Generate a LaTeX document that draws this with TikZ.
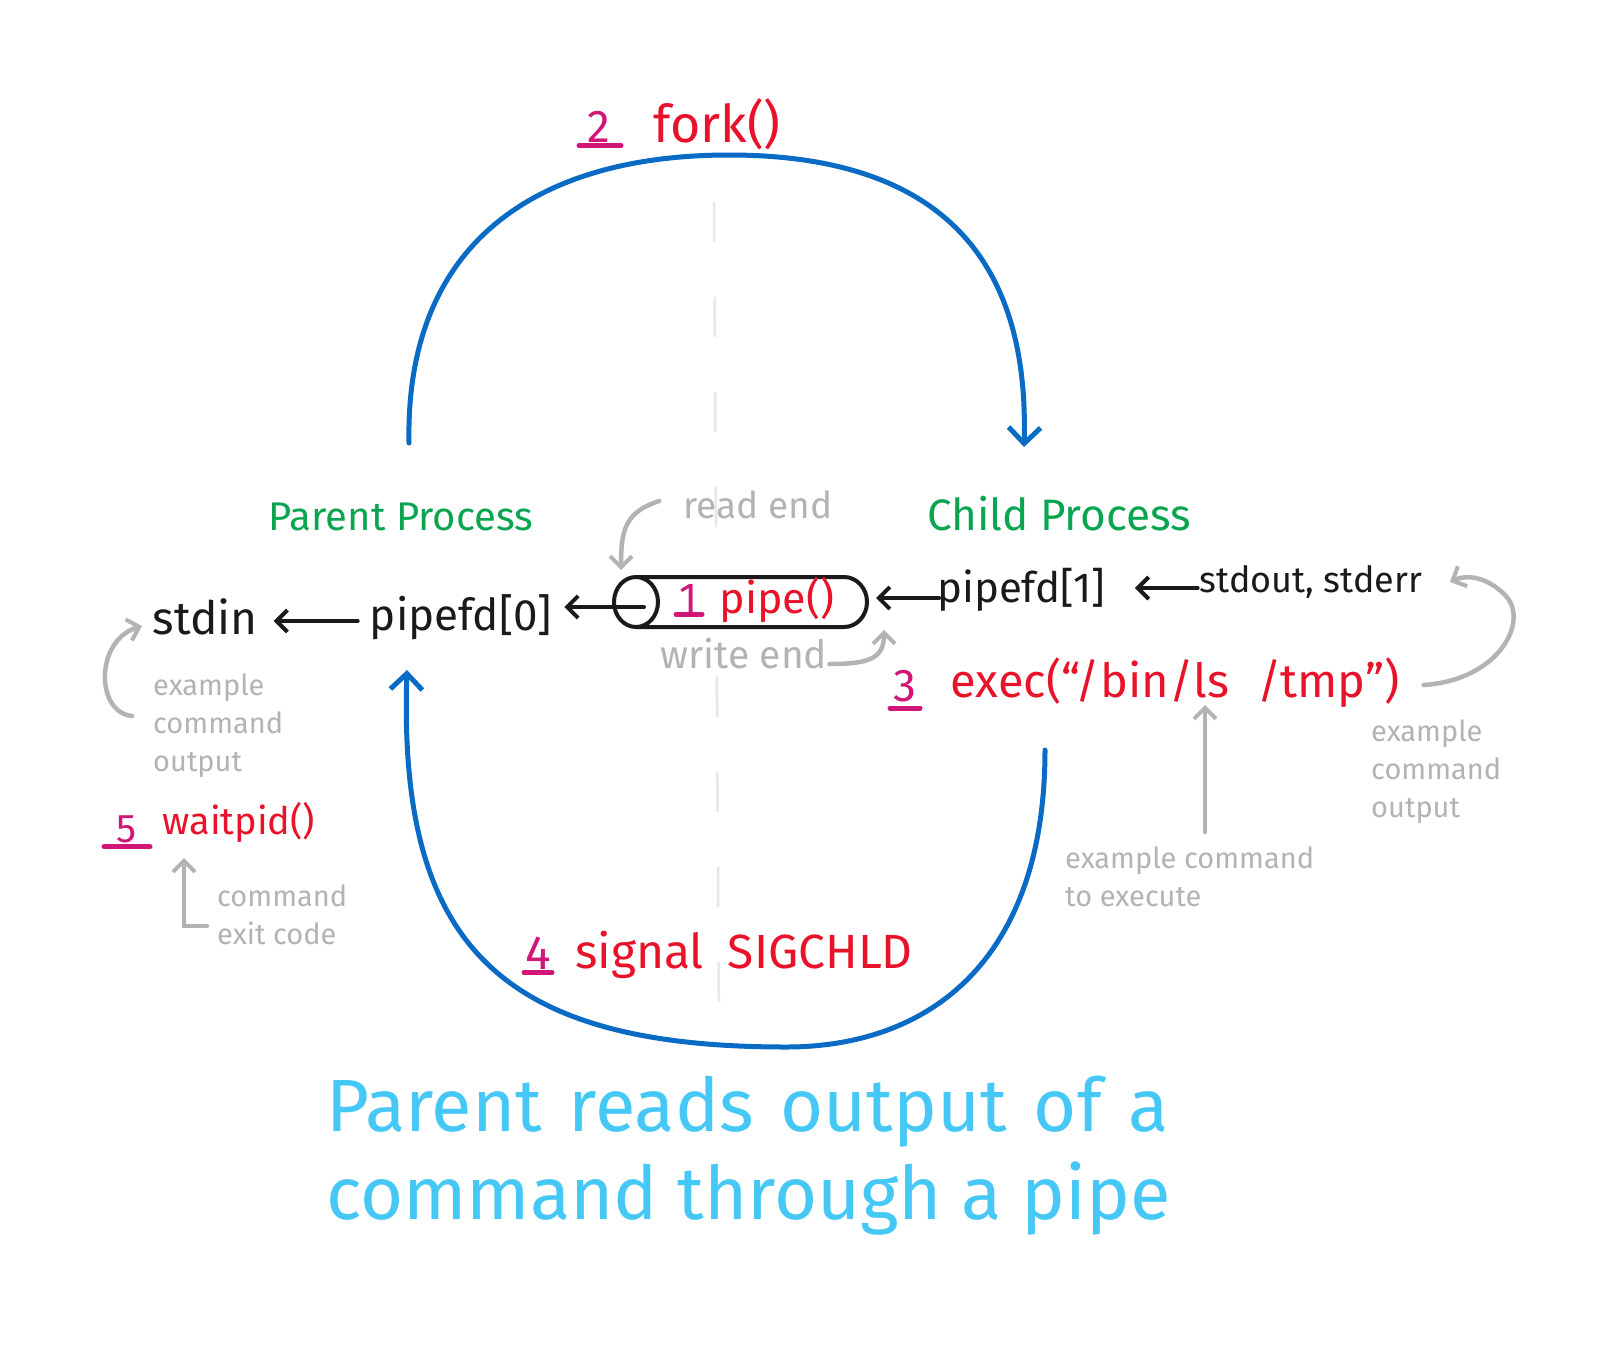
\documentclass[tikz,border=0pt]{standalone}
\usepackage{fontspec}
\setmainfont{Fira Sans}
\usetikzlibrary{arrows.meta}
\definecolor{cblue}{HTML}{0A6BC4}
\definecolor{cgreen}{HTML}{0AA550}
\definecolor{cred}{HTML}{E8132A}
\definecolor{cmag}{HTML}{D01778}
\definecolor{cgray}{HTML}{B3B3B3}
\definecolor{cdash}{HTML}{E8E8E8}
\definecolor{ccyan}{HTML}{45C8F5}
\definecolor{cblack}{HTML}{1A1A1A}
\newcommand\fsz[2]{\fontsize{#1}{#2}\selectfont}
\newcommand\ws{\hspace{0.36em}}
\begin{document}
\begin{tikzpicture}[x=1pt,y=-1pt,
  lbl/.style={inner sep=0pt, text=cblack, font=\fsz{42}{50}},
  grn/.style={inner sep=0pt, text=cgreen, font=\fsz{40}{48}},
  redt/.style={inner sep=0pt, text=cred, font=\fsz{44}{52}},
  num/.style={inner sep=0pt, text=cmag, font=\fsz{46}{52}},
  gry/.style={inner sep=0pt, text=cgray, font=\fsz{37}{44}},
  gsmall/.style={inner sep=0pt, text=cgray, font=\fsz{29}{38}, align=left},
  blk/.style={-{Straight Barb[length=11pt,width=22pt,line width=4pt]}, line width=4pt, line cap=round, cblack},
  garr/.style={-{Straight Barb[length=11pt,width=22pt,line width=4pt]}, line width=4.5pt, line cap=round, cgray},
  barr/.style={-{Straight Barb[length=16pt,width=32pt,line width=5pt]}, line width=5pt, line cap=round, cblue},
  uline/.style={line width=5pt, cmag, line cap=round}]
\fill[white] (0,0) rectangle (1622,1357);
\useasboundingbox (0,0) rectangle (1622,1357);

% dashed separator
\draw[cdash, line width=2.5pt, dash pattern=on 40pt off 55pt] (714,202) -- (719,1035);

% fork
\node[num] (n2) at (599,127) {2};
\draw[uline] ([xshift=-20pt,yshift=-3pt]n2.south) -- ([xshift=22pt,yshift=-3pt]n2.south);
\node[redt, font=\fsz{52}{60}] (fork) at (717,124) {fork()};
\coordinate (forkS) at (409,443);
\coordinate (forkE) at (1024,447);
\draw[barr] (forkS) .. controls (405,240) and (540,155) .. (729,155)
  .. controls (920,155) and (1030,240) .. (forkE);

% process titles
\node[grn] (parent) at (401,517) {Parent Process};
\node[grn, font=\fsz{44}{52}] (child) at (1059,514) {Child Process};

% main row
\node[lbl, font=\fsz{46}{54}] (stdin) at (205,617) {stdin};
\node[lbl, font=\fsz{44}{52}] (fd0) at (461,617) {pipefd[0]};
\node[lbl] (fd1) at (1021,590) {pipefd[1]};
\node[lbl, font=\fsz{36}{44}] (stdout) at (1311,582) {stdout, stderr};

% pipe
\node[inner sep=0pt, minimum width=254pt, minimum height=50pt] (pipe) at (751,602) {};
\fill[white] (636,577) -- (844,577) arc[start angle=-90, end angle=90, x radius=23, y radius=25] -- (636,627) -- cycle;
\draw[cblack, line width=4pt] (636,577) -- (844,577) arc[start angle=-90, end angle=90, x radius=23, y radius=25] -- (636,627);
\draw[cblack, line width=4pt, fill=white] (636,602) ellipse[x radius=22, y radius=25];
\coordinate (pipeL) at (644,607);
\node[num, font=\fsz{42}{48}] (n1) at (689,598) {1};
\draw[uline] ([xshift=-13pt,yshift=-2pt]n1.south) -- ([xshift=13pt,yshift=-2pt]n1.south);
\node[redt, font=\fsz{43}{50}] (pipefn) at (777,600) {pipe()};

% black arrows
\draw[blk] ([xshift=-12pt]fd0.west |- 0,621) -- ([xshift=16pt]stdin.east |- 0,621);
\draw[blk] (pipeL) -- ([xshift=12pt]fd0.east |- pipeL);
\draw[blk] ([xshift=2pt]fd1.west |- 0,598) -- (876,598);
\draw[blk] ([xshift=-2pt]stdout.west |- 0,588) -- ([xshift=30pt]fd1.east |- 0,588);

% read / write end
\node[gry] (readend) at (758,505) {read end};
\draw[garr] ([xshift=-24pt,yshift=4pt]readend.west) .. controls (625,512) and (621,530) .. (621,570);
\node[gry, font=\fsz{39}{44}] (writeend) at (744,654) {write end};
\draw[garr] ([xshift=2pt,yshift=-10pt]writeend.east) .. controls (870,664) and (884,658) .. (884,630);

% exec
\node[num] (n3) at (905,686) {3};
\draw[uline] ([xshift=-15pt,yshift=-6pt]n3.south) -- ([xshift=15pt,yshift=-6pt]n3.south);
\node[redt, font=\fsz{47}{54}] (exec) at (1175,683) {exec(“/bin/ls\hspace{0.6em}/tmp”)};

% right example output
\node[gsmall, anchor=west] (exoutR) at (1371,772) {example\\command\\output};
\draw[garr] ([xshift=24pt,yshift=-2pt]exec.east) .. controls (1500,680) and (1530,620) .. (1505,595)
  .. controls (1485,575) and (1465,575) .. (1450,582);

% command to execute
\node[gsmall, anchor=west] (excmd) at (1065,877) {example command\\to execute};
\draw[garr] (1205,832) -- (1205,705);

% left example output
\node[gsmall, anchor=west] (exoutL) at (153,726) {example\\command\\output};
\draw[garr] (132,716) .. controls (95,712) and (95,640) .. (142,626);

% waitpid
\node[num, font=\fsz{40}{46}] (n5) at (127,829) {5};
\draw[uline] ([xshift=-23pt,yshift=-4pt]n5.south) -- ([xshift=23pt,yshift=-4pt]n5.south);
\node[redt, font=\fsz{38}{44}] (waitpid) at (239,822) {waitpid()};
\node[gsmall, anchor=west] (exitcode) at (217,915) {command\\exit code};
\draw[garr] ([xshift=-10pt]exitcode.west |- 0,926) -- (184,926) -- (184,858);

% signal
\node[num, font=\fsz{48}{54}] (n4) at (538,953) {4};
\draw[uline] ([xshift=-14pt,yshift=-3pt]n4.south) -- ([xshift=14pt,yshift=-3pt]n4.south);
\node[redt, font=\fsz{48}{56}] (signal) at (744,955) {signal\hspace{0.5em}SIGCHLD};
\coordinate (sigS) at (1045,750);
\coordinate (sigE) at (407,670);
\draw[barr] (sigS) .. controls (1045,960) and (930,1047) .. (786,1047)
  .. controls (500,1047) and (398,945) .. (sigE);

% title
\node[inner sep=0pt, anchor=west, text=ccyan, font=\fsz{74}{88}, align=left] (title) at (326,1156)
  {Parent\ws reads\ws output\ws of\ws a\\command through a pipe};
\end{tikzpicture}
\end{document}
